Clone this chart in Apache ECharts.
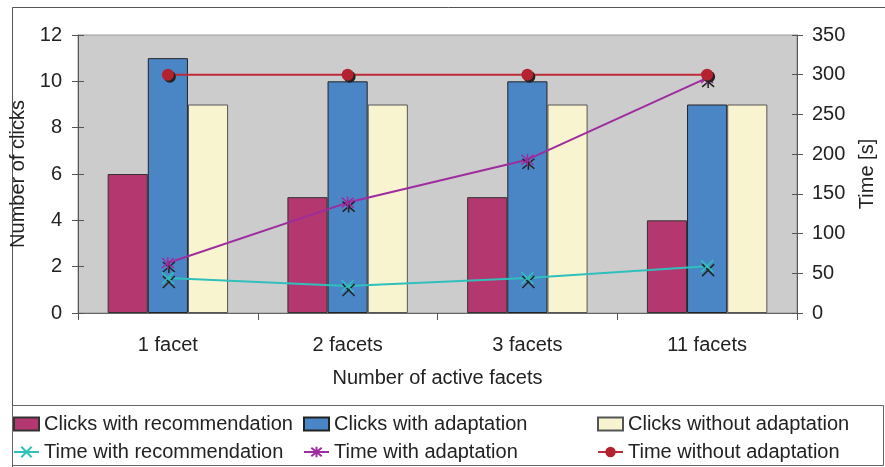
<!DOCTYPE html>
<html>
<head>
<meta charset="utf-8">
<script src="https://cdn.jsdelivr.net/npm/echarts@6/dist/echarts.min.js"></script>
<style>html,body{margin:0;padding:0;background:#fff}#c{width:885px;height:467px}</style>
</head>
<body>
<div id="c"></div>
<script>
var categories = ['1 facet', '2 facets', '3 facets', '11 facets'];
var clicksRecommendation = [6, 5, 5, 4];
var clicksAdaptation = [11, 10, 10, 9];
var clicksWithout = [9, 9, 9, 9];
var timeRecommendation = [44, 34, 44, 59];
var timeAdaptation = [63, 139, 193, 296];
var timeWithout = [300, 300, 300, 300];

var FONT = '"Liberation Sans", Arial, sans-serif';
var FS = 20;
var crossPath = 'path://M0,0L10,10M10,0L0,10';
var starPath = 'path://M0,0L10,10M10,0L0,10M5,-1L5,11';

var chart = echarts.init(document.getElementById('c'), null, {renderer: 'canvas'});

function legendAt(name, left, top, icon) {
  var l = {
    data: [name], left: left, top: top, itemWidth: 25, itemHeight: 13,
    itemGap: 5, padding: 0, selectedMode: false,
    textStyle: {fontFamily: FONT, fontSize: FS, color: '#222'}
  };
  if (icon) l.icon = icon;
  return l;
}

var option = {
  animation: false,
  backgroundColor: '#fff',
  textStyle: {fontFamily: FONT},
  grid: {left: 78, right: 88, top: 35, bottom: 154, show: true, backgroundColor: '#cccccc', borderColor: '#999', borderWidth: 1},
  legend: [
    legendAt('Clicks with recommendation', 13, 414, 'rect'),
    legendAt('Clicks with adaptation', 303, 414, 'rect'),
    legendAt('Clicks without adaptation', 597, 414, 'rect'),
    legendAt('Time with recommendation', 13, 442),
    legendAt('Time with adaptation', 303, 442),
    legendAt('Time without adaptation', 597, 442)
  ],
  graphic: [
    {type: 'polyline', shape: {points: [[12.5, 467], [12.5, 7.5], [885, 7.5]]}, style: {stroke: '#555', lineWidth: 1, fill: null}, silent: true},
    {type: 'rect', shape: {x: 12.5, y: 405.5, width: 871, height: 60}, style: {stroke: '#666', lineWidth: 1, fill: null}, silent: true}
  ],
  xAxis: {
    type: 'category', data: categories,
    name: 'Number of active facets', nameLocation: 'middle', nameGap: 55,
    nameTextStyle: {fontFamily: FONT, fontSize: FS, color: '#222'},
    axisLine: {lineStyle: {color: '#666', width: 1}},
    axisTick: {show: true, length: 7, lineStyle: {color: '#555'}},
    axisLabel: {fontFamily: FONT, fontSize: FS, color: '#222', margin: 22}
  },
  yAxis: [
    {
      type: 'value', min: 0, max: 12, interval: 2,
      name: 'Number of clicks', nameLocation: 'middle', nameGap: 45,
      nameTextStyle: {fontFamily: FONT, fontSize: FS, color: '#222'},
      axisLine: {show: true, lineStyle: {color: '#555', width: 1}},
      axisTick: {show: true, length: 6, lineStyle: {color: '#555'}},
      axisLabel: {fontFamily: FONT, fontSize: FS, color: '#222', margin: 16},
      splitLine: {show: false}
    },
    {
      type: 'value', min: 0, max: 350, interval: 50, position: 'right',
      name: 'Time [s]', nameLocation: 'middle', nameGap: 60,
      nameTextStyle: {fontFamily: FONT, fontSize: FS, color: '#222'},
      axisLine: {show: true, lineStyle: {color: '#555', width: 1}},
      axisTick: {show: true, length: 6, lineStyle: {color: '#555'}},
      axisLabel: {fontFamily: FONT, fontSize: FS, color: '#222', margin: 15},
      splitLine: {show: false}
    },
    {
      type: 'value', min: 0, max: 12, interval: 2, position: 'left',
      axisLine: {show: false}, axisLabel: {show: false}, splitLine: {show: false},
      axisTick: {show: true, inside: true, length: 6, lineStyle: {color: '#555'}}
    },
    {
      type: 'value', min: 0, max: 350, interval: 50, position: 'right',
      axisLine: {show: false}, axisLabel: {show: false}, splitLine: {show: false},
      axisTick: {show: true, inside: true, length: 5, lineStyle: {color: '#555'}}
    }
  ],
  series: [
    {name: 'Clicks with recommendation', type: 'bar', data: clicksRecommendation, barGap: '0%', barCategoryGap: '33%',
      itemStyle: {color: '#b5376f', borderColor: '#333', borderWidth: 1}},
    {name: 'Clicks with adaptation', type: 'bar', data: clicksAdaptation, barGap: '0%', barCategoryGap: '33%',
      itemStyle: {color: '#4a86c6', borderColor: '#222', borderWidth: 1}},
    {name: 'Clicks without adaptation', type: 'bar', data: clicksWithout, barGap: '0%', barCategoryGap: '33%',
      itemStyle: {color: '#f9f4d0', borderColor: '#555', borderWidth: 1}},
    {name: 'Time with recommendation', type: 'line', yAxisIndex: 1, data: timeRecommendation,
      symbol: crossPath, symbolSize: 12, showAllSymbol: true,
      lineStyle: {color: '#2fc0bc', width: 2},
      itemStyle: {color: 'none', borderColor: '#2fc0bc', borderWidth: 1.5, shadowColor: '#222', shadowOffsetX: 1, shadowOffsetY: 4, shadowBlur: 0}},
    {name: 'Time with adaptation', type: 'line', yAxisIndex: 1, data: timeAdaptation,
      symbol: starPath, symbolSize: 12, showAllSymbol: true,
      lineStyle: {color: '#9e2c9e', width: 2},
      itemStyle: {color: 'none', borderColor: '#9e2c9e', borderWidth: 1.5, shadowColor: '#222', shadowOffsetX: 1, shadowOffsetY: 4, shadowBlur: 0}},
    {name: 'Time without adaptation', type: 'line', yAxisIndex: 1, data: timeWithout,
      symbol: 'circle', symbolSize: 12, showAllSymbol: true,
      lineStyle: {color: '#bd2a3a', width: 2},
      itemStyle: {color: '#b5222f', borderWidth: 0, shadowColor: '#222', shadowOffsetX: 2, shadowOffsetY: 2, shadowBlur: 0}}
  ]
};
chart.setOption(option);
</script>
</body>
</html>
